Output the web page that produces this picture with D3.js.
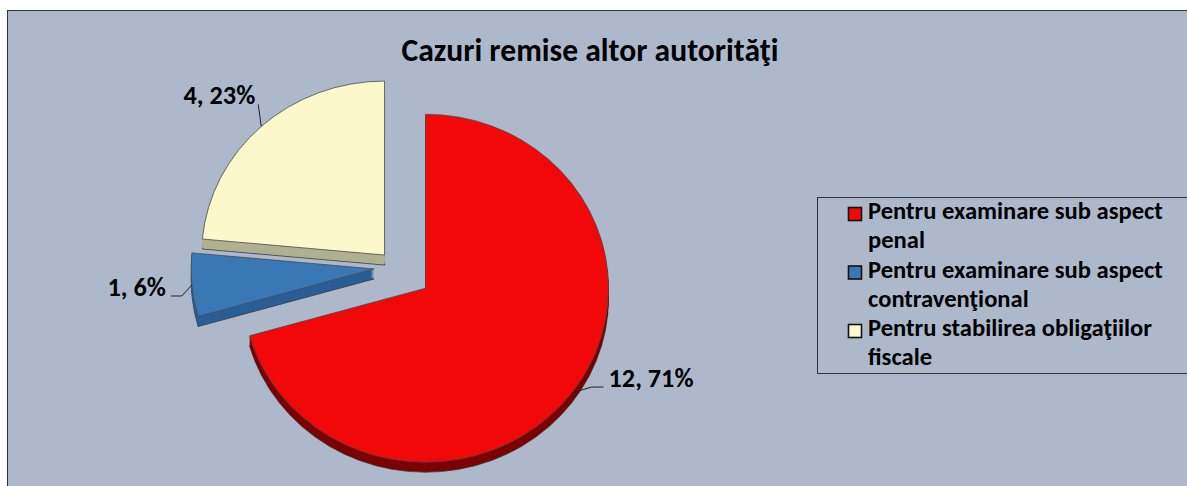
<!DOCTYPE html>
<html><head><meta charset="utf-8">
<script src="https://cdn.jsdelivr.net/npm/d3@7"></script>
<style>body{margin:0;background:#fff} svg{display:block}</style>
</head><body>
<svg id="c" width="1187" height="486"></svg>
<script>
// ---- data ----
const title = "Cazuri remise altor autorităţi";
const categories = ["Pentru examinare sub aspect penal", "Pentru examinare sub aspect contravenţional", "Pentru stabilirea obligaţiilor fiscale"];
const legendLines = [["Pentru examinare sub aspect", "penal"], ["Pentru examinare sub aspect", "contravenţional"], ["Pentru stabilirea obligaţiilor", "fiscale"]];
const values = [12, 1, 4];
const percentLabels = ["71%", "6%", "23%"];

// ---- style ----
const topColors = ["#f20808", "#3a77b5", "#fbf9cb"];
const sideColors = ["#7c0303", "#2a5e96", "#b0b092"];
const FONT = "Carlito, Calibri, Lato, 'Open Sans', sans-serif";

const svg = d3.select("#c");
svg.append("rect").attr("x", 7.5).attr("y", 10.5).attr("width", 1200).attr("height", 500)
  .attr("fill", "#adb9cb").attr("stroke", "#333").attr("stroke-width", 1);

function fit(sel, w) {
  const l = sel.node().getComputedTextLength();
  const fs = parseFloat(sel.attr("font-size"));
  sel.attr("font-size", fs * w / l);
  return fs * w / l;
}

// title
const t = svg.append("text").text(title).attr("x", 590).attr("y", 61)
  .attr("text-anchor", "middle").attr("font-family", FONT).attr("font-weight", "bold")
  .attr("font-size", 26).attr("fill", "#000");
fit(t, 377);

// pie geometry
const rx = 183, ry = 174, k = ry / rx, depth = 10;
const C = {x: 396, y: 267};
const explode = [37, 22, 17];
const pie = d3.pie().sort(null).value(d => d)(values);
const arc = d3.arc().innerRadius(0).outerRadius(rx);

const centers = pie.map((p, i) => {
  const mid = (p.startAngle + p.endAngle) / 2;
  return {mid, x: C.x + Math.sin(mid) * explode[i], y: C.y - Math.cos(mid) * explode[i] * k};
});

[2, 1, 0].forEach(i => {
  const p = pie[i], c = centers[i];
  const g = svg.append("g");
  for (let j = depth; j >= 1; j--) {
    g.append("path").attr("d", arc(p))
      .attr("transform", `translate(${c.x},${c.y + j}) scale(1,${k})`)
      .attr("fill", sideColors[i])
      .attr("stroke", j === depth ? "#3a3a3a" : "none")
      .attr("stroke-width", 0.8).attr("vector-effect", "non-scaling-stroke");
  }
  g.append("path").attr("d", arc(p))
    .attr("transform", `translate(${c.x},${c.y}) scale(1,${k})`)
    .attr("fill", topColors[i]).attr("stroke", "#4a4a4a")
    .attr("stroke-width", 0.8).attr("vector-effect", "non-scaling-stroke");
});

// data labels with leader lines
const leader = [
  {elbow: [20, -6], end: [32, -6], anchor: "start", dx: 5},
  {elbow: [-10, 11], end: [-21, 11], anchor: "end", dx: -5},
  {elbow: [-3, -22], end: [-3, -22], anchor: "end", dx: -3}
];
const labelFont = [];
pie.forEach((p, i) => {
  const c = centers[i];
  const ax = c.x + rx * Math.sin(c.mid), ay = c.y - ry * Math.cos(c.mid);
  const L = leader[i];
  const pts = [[ax, ay], [ax + L.elbow[0], ay + L.elbow[1]], [ax + L.end[0], ay + L.end[1]]];
  svg.append("path").attr("d", d3.line()(pts)).attr("fill", "none").attr("stroke", "#222").attr("stroke-width", 1);
  const tx = svg.append("text").text(values[i] + ", " + percentLabels[i])
    .attr("x", pts[2][0] + L.dx).attr("y", pts[2][1])
    .attr("text-anchor", L.anchor).attr("font-family", FONT).attr("font-weight", "bold")
    .attr("font-size", 22).attr("fill", "#000");
  labelFont.push(tx);
});
const lfs = fit(labelFont[0], 85);
labelFont.forEach(s => s.attr("font-size", lfs));

// legend
svg.append("rect").attr("x", 817.5).attr("y", 197.5).attr("width", 400).attr("height", 176)
  .attr("fill", "none").attr("stroke", "#333").attr("stroke-width", 1);
const lg = svg.append("g");
const probe = lg.append("text").text(legendLines[0][0]).attr("font-family", FONT)
  .attr("font-weight", "bold").attr("font-size", 22).attr("x", 868).attr("y", 219);
const gfs = fit(probe, 295);
probe.remove();
categories.forEach((cat, i) => {
  const y0 = 219 + i * 58.5;
  lg.append("rect").attr("x", 848.5).attr("y", y0 - 11.5).attr("width", 13).attr("height", 13)
    .attr("fill", topColors[i]).attr("stroke", "#111").attr("stroke-width", 1.6);
  legendLines[i].forEach((line, j) => {
    lg.append("text").text(line).attr("x", 868).attr("y", y0 + j * 29)
      .attr("font-family", FONT).attr("font-weight", "bold").attr("font-size", gfs).attr("fill", "#000");
  });
});
</script>
</body></html>
